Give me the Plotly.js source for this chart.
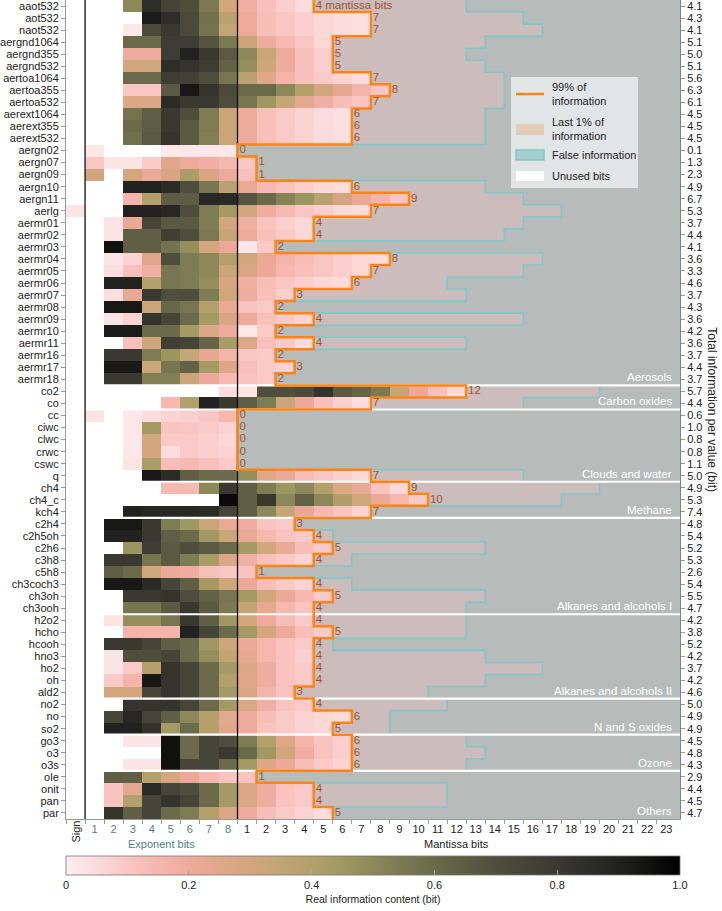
<!DOCTYPE html>
<html><head><meta charset="utf-8">
<script src="https://cdn.plot.ly/plotly-3.0.1.min.js"></script>
<style>body{margin:0;background:#fff}#chart{width:722px;height:911px}</style>
</head><body><div id="chart"></div>
<script>
const N = null;
const variables = ['aaot532','aot532','naot532','aergnd1064','aergnd355','aergnd532','aertoa1064','aertoa355','aertoa532','aerext1064','aerext355','aerext532','aergn02','aergn07','aergn09','aergn10','aergn11','aerlg','aermr01','aermr02','aermr03','aermr04','aermr05','aermr06','aermr07','aermr08','aermr09','aermr10','aermr11','aermr16','aermr17','aermr18','co2','co','cc','ciwc','clwc','crwc','cswc','q','ch4','ch4_c','kch4','c2h4','c2h5oh','c2h6','c3h8','c5h8','ch3coch3','ch3oh','ch3ooh','h2o2','hcho','hcooh','hno3','ho2','oh','ald2','no2','no','so2','go3','o3','o3s','ole','onit','pan','par'];
const keepBits = [4,7,7,5,5,5,7,8,7,6,6,6,0,1,1,6,9,7,4,4,2,8,7,6,3,2,4,2,4,2,3,2,12,7,0,0,0,0,0,7,9,10,7,3,4,5,4,1,4,5,4,4,5,4,4,4,4,3,4,6,5,6,6,6,1,4,4,5];
const last1Bits = [12,15,16,13,12,13,14,14,14,13,13,13,0,1,1,13,15,17,15,14,2,16,15,11,12,2,15,2,12,2,3,2,19,15,0,0,0,0,0,15,19,17,7,3,5,13,6,1,6,13,12,12,12,5,13,16,13,10,11,8,8,12,13,12,1,11,11,5];
const totalInfo = ['4.1','4.3','4.1','5.1','5.0','5.1','5.6','6.3','6.1','4.5','4.5','4.5','0.1','1.3','2.3','4.9','6.7','5.3','3.7','4.4','4.1','3.6','3.3','4.6','3.7','4.3','3.6','4.2','3.6','3.7','4.4','3.7','5.7','4.4','0.6','1.0','0.8','0.8','1.1','5.0','4.9','5.3','7.4','4.8','5.4','5.2','5.3','2.6','5.4','5.5','4.7','4.2','3.8','5.2','4.2','3.7','4.2','4.6','5.0','4.9','4.9','4.5','4.8','4.3','2.9','4.4','4.5','4.7'];
// per row: sign, exponent 1-8, mantissa 1..keep ; null = unused bit
const bitInfo = [
[N,N,N,.5,.85,.75,.7,.55,.3,.18,.12,.08,.05],
[N,N,N,N,.92,.85,.72,.58,.38,.2,.13,.1,.08,.06,.05,.04],
[N,N,N,.02,.72,.8,.72,.57,.35,.2,.13,.1,.08,.06,.05,.04],
[N,N,N,.6,.6,.78,.78,.68,.55,.33,.2,.14,.1,.06],
[N,N,N,.2,.2,.78,.9,.8,.66,.5,.33,.2,.12,.08],
[N,N,N,.3,.3,.85,.82,.78,.63,.48,.32,.2,.12,.08],
[N,N,N,.6,.6,.78,.76,.7,.56,.38,.25,.16,.12,.09,.07,.05],
[N,N,N,.1,.1,.66,.93,.82,.72,.6,.6,.5,.4,.3,.23,.16,.1],
[N,N,N,.27,.27,.86,.8,.8,.7,.56,.45,.34,.24,.18,.13,.1],
[N,N,N,.57,.64,.8,.7,.54,.33,.2,.12,.09,.07,.05,.04],
[N,N,N,.6,.65,.8,.66,.54,.33,.2,.12,.09,.07,.05,.04],
[N,N,N,.58,.66,.82,.66,.53,.33,.2,.12,.09,.07,.05,.04],
[N,.02,N,N,N,.02,.02,.02,.02],
[N,.1,.03,.03,.09,.25,.2,.18,.15,.1],
[N,.3,N,.3,.22,.28,.42,.28,.2,.12],
[N,N,N,.9,.9,.86,.7,.56,.38,.22,.14,.11,.08,.06,.05],
[N,N,N,.16,.4,.65,.65,.88,.86,.68,.6,.52,.46,.38,.3,.21,.16,.1],
[.03,N,N,.9,.9,.88,.7,.54,.44,.3,.19,.14,.1,.08,.06,.05],
[N,N,.03,.22,.75,.66,.66,.54,.3,.18,.11,.08,.06],
[N,N,.03,.64,.64,.77,.7,.55,.34,.2,.12,.09,.06],
[N,N,.95,.64,.64,.57,.48,.3,.21,.02,.09],
[N,N,.03,.07,.26,.7,.54,.5,.4,.3,.22,.16,.13,.1,.08,.06,.05],
[N,N,.05,.12,.18,.56,.54,.5,.33,.28,.21,.15,.12,.1,.08,.06],
[N,N,.9,.9,.4,.56,.54,.48,.29,.18,.13,.1,.08,.06,.05],
[N,N,.04,.22,.8,.7,.7,.54,.31,.19,.12,.08],
[N,N,.93,.93,.33,.61,.56,.4,.22,.11,.09],
[N,N,.03,.07,.82,.74,.6,.44,.28,.2,.12,.09,.07],
[N,N,.92,.92,.6,.6,.44,.27,.2,.02,.09],
[N,N,N,.12,.32,.77,.75,.62,.43,.26,.12,.09,.05],
[N,N,.8,.8,.54,.46,.34,.23,.16,.1,.09],
[N,N,.93,.93,.32,.56,.63,.44,.26,.12,.09,.07],
[N,N,.8,.8,.53,.53,.33,.21,.14,.11,.09],
[N,N,N,N,N,N,N,N,.05,.03,.7,.7,.72,.82,.66,.62,.55,.34,.21,.12,.06],
[N,N,N,N,N,.15,.4,.9,.8,.64,.54,.33,.21,.12,.08,.05],
[N,.03,N,.02,.05,.07,.08,.1,.15],
[N,N,N,.02,.44,.11,.1,.09,.07],
[N,N,N,.02,.3,.09,.09,.08,.06],
[N,N,N,.02,.3,.05,.09,.08,.07],
[N,N,N,.03,.42,.13,.14,.12,.09],
[N,N,N,N,.93,.86,.64,.6,.6,.48,.26,.21,.13,.1,.08,.06],
[N,N,N,N,N,.14,.14,.5,.8,.64,.54,.46,.5,.4,.27,.22,.11,.06],
[N,N,N,N,N,N,N,N,.97,.64,.8,.5,.63,.5,.41,.31,.21,.15,.09],
[N,N,N,.9,.88,.88,.88,.86,.74,.64,.5,.34,.22,.14,.1,.07],
[N,N,.93,.93,.8,.54,.45,.33,.22,.19,.11,.09],
[N,N,.9,.9,.8,.64,.6,.45,.33,.22,.15,.11,.09],
[N,N,N,.46,.78,.66,.7,.66,.6,.44,.31,.21,.13,.09],
[N,N,.8,.8,.56,.66,.54,.43,.27,.18,.12,.09,.07],
[N,N,.64,.6,.31,.21,.19,.12,.1,.11],
[N,N,.93,.93,.86,.74,.64,.44,.32,.21,.13,.09,.07],
[N,N,N,.8,.8,.82,.7,.63,.56,.44,.31,.21,.15,.09],
[N,N,N,.56,.56,.66,.8,.66,.55,.35,.23,.15,.11],
[N,N,.03,.48,.48,.56,.8,.64,.45,.3,.2,.13,.09],
[N,N,N,.16,.16,.16,.9,.74,.6,.44,.3,.2,.13,.09],
[N,N,.8,.8,.74,.64,.6,.45,.32,.21,.15,.11,.09],
[N,N,.03,.7,.7,.74,.6,.48,.35,.23,.15,.11,.08],
[N,N,.03,.09,.4,.82,.74,.6,.44,.27,.19,.11,.09],
[N,N,.09,.16,.93,.82,.74,.6,.4,.26,.19,.11,.09],
[N,N,.3,.3,.74,.82,.74,.6,.44,.28,.16,.11],
[N,N,N,.82,.82,.82,.74,.6,.44,.27,.18,.11,.09],
[N,N,.74,.88,.74,.64,.5,.4,.24,.2,.13,.09,.07,.06,.05],
[N,N,.9,.9,.82,.44,.6,.4,.25,.2,.11,.09,.07,.06],
[N,N,N,.03,.03,.95,.6,.74,.7,.54,.4,.26,.16,.11,.08],
[N,N,N,N,N,.95,.6,.74,.8,.6,.45,.31,.19,.11,.08],
[N,N,N,.03,.03,.95,.74,.74,.6,.44,.27,.21,.13,.09,.07],
[N,N,.64,.64,.4,.3,.21,.15,.11,.11],
[N,N,.11,.24,.86,.74,.7,.6,.44,.27,.19,.11,.09],
[N,N,.11,.4,.74,.82,.74,.6,.44,.27,.19,.11,.09],
[N,N,.82,.64,.74,.6,.54,.4,.27,.2,.13,.09,.07,.05]
];
const groupNames = ['Aerosols','Carbon oxides','Clouds and water','Methane','Alkanes and alcohols I','Alkanes and alcohols II','N and S oxides','Ozone','Others'];
const groupLastRow = [31,33,39,42,50,57,60,63,67];
const exponentLabels = ['1','2','3','4','5','6','7','8'];
const mantissaLabels = ['1','2','3','4','5','6','7','8','9','10','11','12','13','14','15','16','17','18','19','20','21','22','23'];
const cbTicks = [0,0.2,0.4,0.6,0.8,1.0];
const cbTickText = ['0','0.2','0.4','0.6','0.8','1.0'];

const FONT = 'Liberation Sans, Arial, Helvetica, sans-serif';
const FS = 11;
const EXPC = '#4a8383';
const nCols = 1 + exponentLabels.length + mantissaLabels.length;
const cols = Array.from({length:nCols}, (_, c) => c);
const rows = variables.map((_, i) => i);
const XMAX = nCols - 0.5 + 0.22;

const infoZ = bitInfo.map(r => cols.map(c => c < r.length ? r[c] : null));
const regionZ = bitInfo.map((r, i) => cols.map(c => {
  if (c < r.length) return r[c] === null ? 0 : null;
  if (c <= 8 + last1Bits[i]) return 1;
  return null;
}));

function stepPath(bits) {
  const xs = [], ys = [];
  bits.forEach((b, i) => { const x = 8.5 + b; xs.push(x, x); ys.push(i - 0.5, i + 0.5); });
  return {xs, ys};
}
const orange = stepPath(keepBits);
const teal = stepPath(last1Bits.map((b, i) => Math.max(b, keepBits[i])));

const sepX = [], sepY = [];
groupLastRow.slice(0, -1).forEach(r => { sepX.push(-0.5, XMAX, null); sepY.push(r + 0.5, r + 0.5, null); });

const colorscale = [
  [0.0,'#fdeef0'],[0.05,'#fcdcdc'],[0.1,'#fac6c4'],[0.15,'#f5b7ae'],[0.2,'#eeaa9b'],
  [0.25,'#e2a78b'],[0.3,'#d3a67d'],[0.35,'#c3a574'],[0.4,'#b3a06b'],[0.45,'#9f9862'],
  [0.5,'#8c8859'],[0.55,'#7b7952'],[0.6,'#6b6a4a'],[0.7,'#4f4e3d'],[0.8,'#393930'],
  [0.9,'#222220'],[1.0,'#000000']
];

const traces = [
  {type:'heatmap', x: cols, y: rows, z: regionZ, zmin:0, zmax:1, showscale:false, hoverinfo:'skip',
   colorscale:[[0,'#ffffff'],[0.5,'#ffffff'],[0.5,'#ccbdbc'],[1,'#ccbdbc']]},
  {type:'heatmap', x: cols, y: rows, z: infoZ, zmin:0, zmax:1, colorscale: colorscale,
   colorbar:{orientation:'h', x:0.5, xanchor:'center', y:-0.0452, yanchor:'top', len:1, lenmode:'fraction',
     thickness:19, xpad:0, ypad:0, outlinewidth:0.8, outlinecolor:'#777',
     tickvals: cbTicks, ticktext: cbTickText, ticks:'inside', ticklen:5, tickcolor:'#aaa',
     tickfont:{size:11, color:'#222', family:FONT},
     title:{text:'Real information content (bit)', side:'bottom', font:{size:10.5, color:'#222', family:FONT}}}},
  {type:'scatter', mode:'lines', x: teal.xs, y: teal.ys, line:{color:'#80c8c6', width:1.6}, hoverinfo:'skip', showlegend:false},
  {type:'scatter', mode:'lines', x: sepX, y: sepY, line:{color:'#ffffff', width:2.2}, hoverinfo:'skip', showlegend:false},
  {type:'scatter', mode:'lines', x:[0.5,0.5,null,8.5,8.5], y:[-0.5,67.5,null,-0.5,67.5], line:{color:'#111', width:1.3}, hoverinfo:'skip', showlegend:false},
  {type:'scatter', mode:'lines', x: orange.xs, y: orange.ys, line:{color:'#ff8415', width:2.5}, hoverinfo:'skip', showlegend:false},
  {type:'scatter', mode:'text', x: keepBits.map(k => 8.5 + k + 0.1), y: rows,
   text: keepBits.map((k, i) => i === 0 ? k + ' mantissa bits' : String(k)),
   textposition:'middle right', textfont:{size:11.5, color:'#9c5530', family:FONT}, cliponaxis:false, hoverinfo:'skip', showlegend:false},
  {type:'scatter', mode:'markers', x:[0], y:[0], yaxis:'y2', marker:{opacity:0}, hoverinfo:'skip', showlegend:false}
];

const xTickText = [''].concat(exponentLabels.map(t => '<span style="color:' + EXPC + '">' + t + '</span>'), mantissaLabels);

const annotations = [
  {text:'Sign', x:0, xref:'x', xanchor:'center', y:-0.0159, yref:'paper', yanchor:'middle', textangle:-90, showarrow:false, font:{size:FS, color:'#222', family:FONT}},
  {text:'Exponent bits', x:4.5, xref:'x', xanchor:'center', y:-0.031, yref:'paper', yanchor:'middle', showarrow:false, font:{size:FS, color:EXPC, family:FONT}},
  {text:'Mantissa bits', x:20, xref:'x', xanchor:'center', y:-0.031, yref:'paper', yanchor:'middle', showarrow:false, font:{size:FS, color:'#222', family:FONT}},
  {text:'Total information per value (bit)', x:1.0525, xref:'paper', xanchor:'center', y:0.5, yref:'paper', yanchor:'middle', textangle:90, showarrow:false, font:{size:12, color:'#222', family:FONT}}
];
groupNames.forEach((g, i) => annotations.push({text:g, x:31.4, xref:'x', xanchor:'right', y:groupLastRow[i], yref:'y', yanchor:'middle', yshift:2, showarrow:false, font:{size:11.5, color:'#ffffff', family:FONT}}));

// legend
const lg = {x0:0.7248, x1:0.9316, y0:0.7705, y1:0.906};
const sw = {x0:0.7329, x1:0.7785};
const shapes = [
  {type:'rect', xref:'paper', yref:'paper', x0:lg.x0, x1:lg.x1, y0:lg.y0, y1:lg.y1, fillcolor:'#e2e5e5', line:{width:0}, layer:'above'},
  {type:'line', xref:'paper', yref:'paper', x0:sw.x0, x1:sw.x1, y0:0.8852, y1:0.8852, line:{color:'#ff8415', width:2.5}, layer:'above'},
  {type:'rect', xref:'paper', yref:'paper', x0:sw.x0, x1:sw.x1, y0:0.8352, y1:0.8486, fillcolor:'#e3ccb6', line:{width:0}, layer:'above'},
  {type:'rect', xref:'paper', yref:'paper', x0:sw.x0, x1:sw.x1, y0:0.8046, y1:0.8168, fillcolor:'#a3cfce', line:{color:'#86c6c4', width:1.5}, layer:'above'},
  {type:'rect', xref:'paper', yref:'paper', x0:sw.x0, x1:sw.x1, y0:0.779, y1:0.7912, fillcolor:'#ffffff', line:{width:0}, layer:'above'}
];
[['99% of<br>information',0.8852],['Last 1% of<br>information',0.8419],['False information',0.8107],['Unused bits',0.7857]].forEach(([t, y]) =>
  annotations.push({text:t, x:0.7883, xref:'paper', xanchor:'left', y:y, yref:'paper', yanchor:'middle', align:'left', showarrow:false, font:{size:11, color:'#222', family:FONT}}));

const layout = {
  width:722, height:911,
  margin:{l:66, r:42, t:0, b:92, autoexpand:false},
  paper_bgcolor:'#ffffff', plot_bgcolor:'#b7bcbb',
  font:{family:FONT, size:FS, color:'#222'},
  showlegend:false,
  xaxis:{range:[-0.5, XMAX], tickmode:'array', tickvals: cols, ticktext: xTickText, ticks:'', ticklen:0, showgrid:false, zeroline:false,
    showline:true, linecolor:'#999', linewidth:1, tickfont:{size:FS, family:FONT, color:'#222'},
    minor:{tickmode:'array', tickvals: cols.map(c => c - 0.5), ticks:'outside', ticklen:4, tickcolor:'#999', showgrid:false}},
  yaxis:{range:[67.5, -0.5], tickmode:'array', tickvals: rows, ticktext: variables, ticks:'outside', ticklen:4, tickcolor:'#999',
    ticklabeloverflow:'allow', showgrid:false, zeroline:false, showline:true, linecolor:'#999', linewidth:1, tickfont:{size:FS, family:FONT, color:'#222'}},
  yaxis2:{overlaying:'y', side:'right', range:[67.5, -0.5], tickmode:'array', tickvals: rows, ticktext: totalInfo, ticks:'outside', ticklen:4,
    ticklabeloverflow:'allow', tickcolor:'#999', showgrid:false, zeroline:false, showline:true, linecolor:'#6f8a8a', linewidth:1, tickfont:{size:FS, family:FONT, color:'#222'}},
  shapes: shapes,
  annotations: annotations
};

Plotly.newPlot('chart', traces, layout, {displayModeBar:false, staticPlot:true});
</script>
</body></html>
